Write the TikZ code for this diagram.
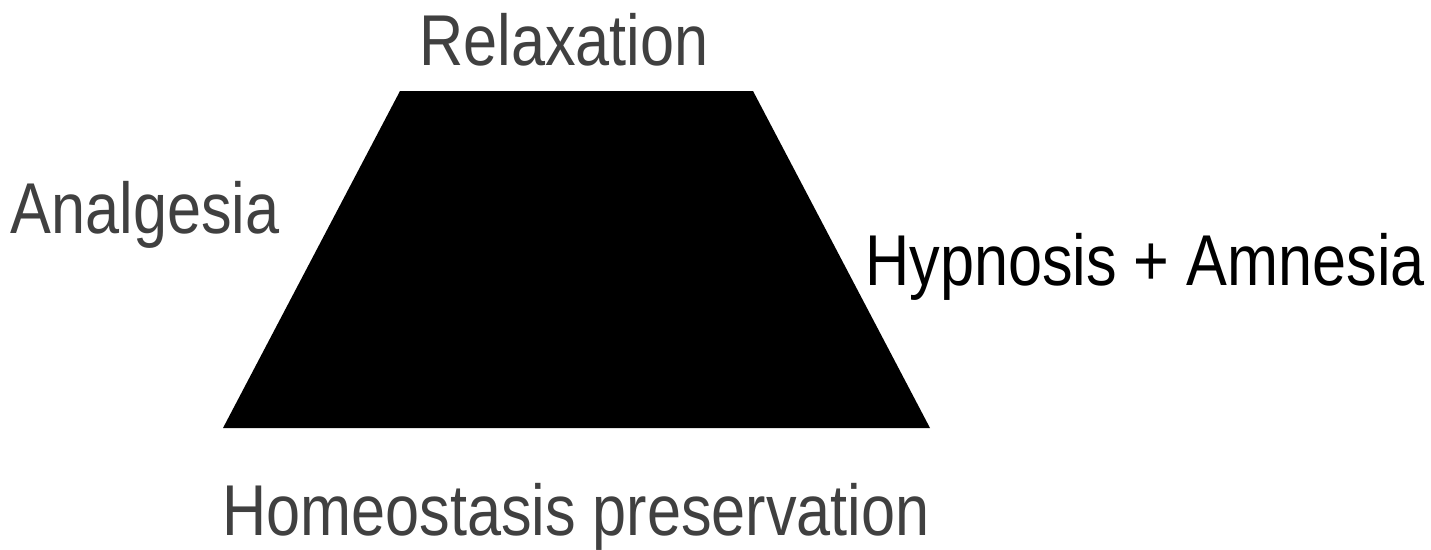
\documentclass[tikz,border=0pt]{standalone}
\usepackage{fontspec}
\usepackage{xcolor}
\usepackage{tikz}
\setmainfont{Liberation Sans}
\newfontfamily\labelfont[FakeStretch=0.85]{Liberation Sans}
\definecolor{labelgray}{RGB}{64, 64, 64}

\begin{document}
\begin{tikzpicture}[
    x=1pt, y=-1pt,
    lbl/.style={anchor=base, inner sep=0pt, text=#1,
        font=\labelfont\fontsize{72}{72}\selectfont},
    lbl/.default=labelgray,
    trap/.style={fill=black, draw=none}
]
\useasboundingbox (0,0) rectangle (1431,549);

% Trapezoid
\coordinate (tl) at (400,91);
\coordinate (tr) at (753,91);
\coordinate (br) at (930,428);
\coordinate (bl) at (223,428);
\fill[trap] (tl) -- (tr) -- (br) -- (bl) -- cycle;

% Labels
\node[lbl] (relax) at (564,65) {Relaxation};
\node[lbl] (analg) at (145,233) {Analgesia};
\node[lbl=black] (hypno) at (1145,285) {Hypnosis + Amnesia};
\node[lbl] (homeo) at (576,535) {Homeostasis preservation};

\end{tikzpicture}
\end{document}
